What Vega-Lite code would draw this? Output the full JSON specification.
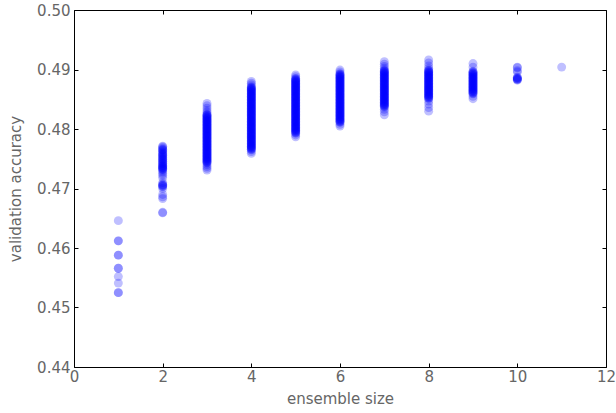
{
  "$schema": "https://vega.github.io/schema/vega-lite/v6.json",
  "width": 532,
  "height": 357,
  "autosize": "none",
  "padding": {"left": 74, "top": 10, "right": 10, "bottom": 46},
  "background": "white",
  "config": {
    "view": {"stroke": null},
    "axis": {
      "domainColor": "black",
      "domainWidth": 1,
      "tickColor": "black",
      "tickSize": -4,
      "grid": false,
      "labelFont": "DejaVu Sans",
      "labelFontSize": 15,
      "labelColor": "#666666",
      "titleFont": "DejaVu Sans",
      "titleFontSize": 15,
      "titleFontWeight": "normal",
      "titleColor": "#666666"
    }
  },
  "data": {
    "values": [
      {"s":1,"a":0.4646},{"s":1,"a":0.4612},{"s":1,"a":0.4612},{"s":1,"a":0.4588},{"s":1,"a":0.4588},{"s":1,"a":0.4566},{"s":1,"a":0.4566},{"s":1,"a":0.4552},{"s":1,"a":0.4541},{"s":1,"a":0.4525},{"s":1,"a":0.4525},
      {"s":2,"a":0.4771},{"s":2,"a":0.4768},{"s":2,"a":0.4765},{"s":2,"a":0.4762},{"s":2,"a":0.4759},{"s":2,"a":0.4757},{"s":2,"a":0.4755},{"s":2,"a":0.4752},{"s":2,"a":0.4750},{"s":2,"a":0.4748},{"s":2,"a":0.4745},{"s":2,"a":0.4743},{"s":2,"a":0.4741},{"s":2,"a":0.4738},{"s":2,"a":0.4737},{"s":2,"a":0.4735},{"s":2,"a":0.4733},{"s":2,"a":0.4731},{"s":2,"a":0.4728},{"s":2,"a":0.4725},{"s":2,"a":0.4722},{"s":2,"a":0.4718},{"s":2,"a":0.4710},{"s":2,"a":0.4707},{"s":2,"a":0.4705},{"s":2,"a":0.4703},{"s":2,"a":0.4700},{"s":2,"a":0.4690},{"s":2,"a":0.4686},{"s":2,"a":0.4683},{"s":2,"a":0.4660},{"s":2,"a":0.4659},
      {"s":2,"a":0.4770},{"s":2,"a":0.4766},{"s":2,"a":0.4764},{"s":2,"a":0.4760},{"s":2,"a":0.4756},{"s":2,"a":0.4753},{"s":2,"a":0.4749},{"s":2,"a":0.4746},{"s":2,"a":0.4742},{"s":2,"a":0.4739},{"s":2,"a":0.4736},{"s":2,"a":0.4734},{"s":2,"a":0.4732},{"s":2,"a":0.4706},{"s":2,"a":0.4704},
      {"s":3,"a":0.4843},{"s":3,"a":0.4839},{"s":3,"a":0.4835},{"s":3,"a":0.4831},{"s":3,"a":0.4828},{"s":3,"a":0.4825},{"s":3,"a":0.4823},{"s":3,"a":0.4821},{"s":3,"a":0.4819},{"s":3,"a":0.4817},{"s":3,"a":0.4815},{"s":3,"a":0.4813},{"s":3,"a":0.4811},{"s":3,"a":0.4809},{"s":3,"a":0.4807},{"s":3,"a":0.4805},{"s":3,"a":0.4803},{"s":3,"a":0.4801},{"s":3,"a":0.4799},{"s":3,"a":0.4797},{"s":3,"a":0.4795},{"s":3,"a":0.4793},{"s":3,"a":0.4791},{"s":3,"a":0.4789},{"s":3,"a":0.4787},{"s":3,"a":0.4785},{"s":3,"a":0.4783},{"s":3,"a":0.4781},{"s":3,"a":0.4779},{"s":3,"a":0.4777},{"s":3,"a":0.4775},{"s":3,"a":0.4773},{"s":3,"a":0.4771},{"s":3,"a":0.4769},{"s":3,"a":0.4767},{"s":3,"a":0.4765},{"s":3,"a":0.4763},{"s":3,"a":0.4761},{"s":3,"a":0.4759},{"s":3,"a":0.4757},{"s":3,"a":0.4755},{"s":3,"a":0.4753},{"s":3,"a":0.4751},{"s":3,"a":0.4749},{"s":3,"a":0.4747},{"s":3,"a":0.4745},{"s":3,"a":0.4743},{"s":3,"a":0.4740},{"s":3,"a":0.4737},{"s":3,"a":0.4734},{"s":3,"a":0.4731},
      {"s":3,"a":0.4824},{"s":3,"a":0.4822},{"s":3,"a":0.4820},{"s":3,"a":0.4818},{"s":3,"a":0.4816},{"s":3,"a":0.4814},{"s":3,"a":0.4812},{"s":3,"a":0.4810},{"s":3,"a":0.4808},{"s":3,"a":0.4806},{"s":3,"a":0.4804},{"s":3,"a":0.4802},{"s":3,"a":0.4800},{"s":3,"a":0.4798},{"s":3,"a":0.4796},{"s":3,"a":0.4794},{"s":3,"a":0.4792},{"s":3,"a":0.4790},{"s":3,"a":0.4788},{"s":3,"a":0.4786},{"s":3,"a":0.4784},{"s":3,"a":0.4782},{"s":3,"a":0.4780},{"s":3,"a":0.4778},{"s":3,"a":0.4776},{"s":3,"a":0.4774},{"s":3,"a":0.4772},{"s":3,"a":0.4770},{"s":3,"a":0.4768},{"s":3,"a":0.4766},{"s":3,"a":0.4764},{"s":3,"a":0.4762},{"s":3,"a":0.4760},{"s":3,"a":0.4758},{"s":3,"a":0.4756},{"s":3,"a":0.4754},{"s":3,"a":0.4752},{"s":3,"a":0.4750},{"s":3,"a":0.4748},{"s":3,"a":0.4746},{"s":3,"a":0.4744},
      {"s":4,"a":0.4880},{"s":4,"a":0.4877},{"s":4,"a":0.4874},{"s":4,"a":0.4871},{"s":4,"a":0.4869},{"s":4,"a":0.4867},{"s":4,"a":0.4865},{"s":4,"a":0.4863},{"s":4,"a":0.4861},{"s":4,"a":0.4859},{"s":4,"a":0.4857},{"s":4,"a":0.4855},{"s":4,"a":0.4853},{"s":4,"a":0.4851},{"s":4,"a":0.4849},{"s":4,"a":0.4847},{"s":4,"a":0.4845},{"s":4,"a":0.4843},{"s":4,"a":0.4841},{"s":4,"a":0.4839},{"s":4,"a":0.4837},{"s":4,"a":0.4835},{"s":4,"a":0.4833},{"s":4,"a":0.4831},{"s":4,"a":0.4829},{"s":4,"a":0.4827},{"s":4,"a":0.4825},{"s":4,"a":0.4823},{"s":4,"a":0.4821},{"s":4,"a":0.4819},{"s":4,"a":0.4817},{"s":4,"a":0.4815},{"s":4,"a":0.4813},{"s":4,"a":0.4811},{"s":4,"a":0.4809},{"s":4,"a":0.4807},{"s":4,"a":0.4805},{"s":4,"a":0.4803},{"s":4,"a":0.4801},{"s":4,"a":0.4799},{"s":4,"a":0.4797},{"s":4,"a":0.4795},{"s":4,"a":0.4793},{"s":4,"a":0.4791},{"s":4,"a":0.4789},{"s":4,"a":0.4787},{"s":4,"a":0.4785},{"s":4,"a":0.4783},{"s":4,"a":0.4781},{"s":4,"a":0.4779},{"s":4,"a":0.4777},{"s":4,"a":0.4775},{"s":4,"a":0.4773},{"s":4,"a":0.4771},{"s":4,"a":0.4769},{"s":4,"a":0.4767},{"s":4,"a":0.4765},{"s":4,"a":0.4762},{"s":4,"a":0.4759},
      {"s":4,"a":0.4870},{"s":4,"a":0.4868},{"s":4,"a":0.4866},{"s":4,"a":0.4864},{"s":4,"a":0.4862},{"s":4,"a":0.4860},{"s":4,"a":0.4858},{"s":4,"a":0.4856},{"s":4,"a":0.4854},{"s":4,"a":0.4852},{"s":4,"a":0.4850},{"s":4,"a":0.4848},{"s":4,"a":0.4846},{"s":4,"a":0.4844},{"s":4,"a":0.4842},{"s":4,"a":0.4840},{"s":4,"a":0.4838},{"s":4,"a":0.4836},{"s":4,"a":0.4834},{"s":4,"a":0.4832},{"s":4,"a":0.4830},{"s":4,"a":0.4828},{"s":4,"a":0.4826},{"s":4,"a":0.4824},{"s":4,"a":0.4822},{"s":4,"a":0.4820},{"s":4,"a":0.4818},{"s":4,"a":0.4816},{"s":4,"a":0.4814},{"s":4,"a":0.4812},{"s":4,"a":0.4810},{"s":4,"a":0.4808},{"s":4,"a":0.4806},{"s":4,"a":0.4804},{"s":4,"a":0.4802},{"s":4,"a":0.4800},{"s":4,"a":0.4798},{"s":4,"a":0.4796},{"s":4,"a":0.4794},{"s":4,"a":0.4792},{"s":4,"a":0.4790},{"s":4,"a":0.4788},{"s":4,"a":0.4786},{"s":4,"a":0.4784},{"s":4,"a":0.4782},{"s":4,"a":0.4780},{"s":4,"a":0.4778},{"s":4,"a":0.4776},{"s":4,"a":0.4774},{"s":4,"a":0.4772},{"s":4,"a":0.4770},{"s":4,"a":0.4768},{"s":4,"a":0.4766},
      {"s":5,"a":0.4891},{"s":5,"a":0.4888},{"s":5,"a":0.4885},{"s":5,"a":0.4883},{"s":5,"a":0.4881},{"s":5,"a":0.4879},{"s":5,"a":0.4877},{"s":5,"a":0.4875},{"s":5,"a":0.4873},{"s":5,"a":0.4871},{"s":5,"a":0.4869},{"s":5,"a":0.4867},{"s":5,"a":0.4865},{"s":5,"a":0.4863},{"s":5,"a":0.4861},{"s":5,"a":0.4859},{"s":5,"a":0.4857},{"s":5,"a":0.4855},{"s":5,"a":0.4853},{"s":5,"a":0.4851},{"s":5,"a":0.4849},{"s":5,"a":0.4847},{"s":5,"a":0.4845},{"s":5,"a":0.4843},{"s":5,"a":0.4841},{"s":5,"a":0.4839},{"s":5,"a":0.4837},{"s":5,"a":0.4835},{"s":5,"a":0.4833},{"s":5,"a":0.4831},{"s":5,"a":0.4829},{"s":5,"a":0.4827},{"s":5,"a":0.4825},{"s":5,"a":0.4823},{"s":5,"a":0.4821},{"s":5,"a":0.4819},{"s":5,"a":0.4817},{"s":5,"a":0.4815},{"s":5,"a":0.4813},{"s":5,"a":0.4811},{"s":5,"a":0.4809},{"s":5,"a":0.4807},{"s":5,"a":0.4805},{"s":5,"a":0.4803},{"s":5,"a":0.4801},{"s":5,"a":0.4799},{"s":5,"a":0.4797},{"s":5,"a":0.4795},{"s":5,"a":0.4793},{"s":5,"a":0.4790},{"s":5,"a":0.4787},
      {"s":5,"a":0.4884},{"s":5,"a":0.4882},{"s":5,"a":0.4880},{"s":5,"a":0.4878},{"s":5,"a":0.4876},{"s":5,"a":0.4874},{"s":5,"a":0.4872},{"s":5,"a":0.4870},{"s":5,"a":0.4868},{"s":5,"a":0.4866},{"s":5,"a":0.4864},{"s":5,"a":0.4862},{"s":5,"a":0.4860},{"s":5,"a":0.4858},{"s":5,"a":0.4856},{"s":5,"a":0.4854},{"s":5,"a":0.4852},{"s":5,"a":0.4850},{"s":5,"a":0.4848},{"s":5,"a":0.4846},{"s":5,"a":0.4844},{"s":5,"a":0.4842},{"s":5,"a":0.4840},{"s":5,"a":0.4838},{"s":5,"a":0.4836},{"s":5,"a":0.4834},{"s":5,"a":0.4832},{"s":5,"a":0.4830},{"s":5,"a":0.4828},{"s":5,"a":0.4826},{"s":5,"a":0.4824},{"s":5,"a":0.4822},{"s":5,"a":0.4820},{"s":5,"a":0.4818},{"s":5,"a":0.4816},{"s":5,"a":0.4814},{"s":5,"a":0.4812},{"s":5,"a":0.4810},{"s":5,"a":0.4808},{"s":5,"a":0.4806},{"s":5,"a":0.4804},{"s":5,"a":0.4802},{"s":5,"a":0.4800},{"s":5,"a":0.4798},{"s":5,"a":0.4796},{"s":5,"a":0.4794},
      {"s":6,"a":0.4899},{"s":6,"a":0.4896},{"s":6,"a":0.4893},{"s":6,"a":0.4891},{"s":6,"a":0.4889},{"s":6,"a":0.4887},{"s":6,"a":0.4885},{"s":6,"a":0.4883},{"s":6,"a":0.4881},{"s":6,"a":0.4879},{"s":6,"a":0.4877},{"s":6,"a":0.4875},{"s":6,"a":0.4873},{"s":6,"a":0.4871},{"s":6,"a":0.4869},{"s":6,"a":0.4867},{"s":6,"a":0.4865},{"s":6,"a":0.4863},{"s":6,"a":0.4861},{"s":6,"a":0.4859},{"s":6,"a":0.4857},{"s":6,"a":0.4855},{"s":6,"a":0.4853},{"s":6,"a":0.4851},{"s":6,"a":0.4849},{"s":6,"a":0.4847},{"s":6,"a":0.4845},{"s":6,"a":0.4843},{"s":6,"a":0.4841},{"s":6,"a":0.4839},{"s":6,"a":0.4837},{"s":6,"a":0.4835},{"s":6,"a":0.4833},{"s":6,"a":0.4831},{"s":6,"a":0.4829},{"s":6,"a":0.4827},{"s":6,"a":0.4825},{"s":6,"a":0.4823},{"s":6,"a":0.4821},{"s":6,"a":0.4819},{"s":6,"a":0.4817},{"s":6,"a":0.4815},{"s":6,"a":0.4813},{"s":6,"a":0.4811},{"s":6,"a":0.4808},{"s":6,"a":0.4805},
      {"s":6,"a":0.4892},{"s":6,"a":0.4890},{"s":6,"a":0.4888},{"s":6,"a":0.4886},{"s":6,"a":0.4884},{"s":6,"a":0.4882},{"s":6,"a":0.4880},{"s":6,"a":0.4878},{"s":6,"a":0.4876},{"s":6,"a":0.4874},{"s":6,"a":0.4872},{"s":6,"a":0.4870},{"s":6,"a":0.4868},{"s":6,"a":0.4866},{"s":6,"a":0.4864},{"s":6,"a":0.4862},{"s":6,"a":0.4860},{"s":6,"a":0.4858},{"s":6,"a":0.4856},{"s":6,"a":0.4854},{"s":6,"a":0.4852},{"s":6,"a":0.4850},{"s":6,"a":0.4848},{"s":6,"a":0.4846},{"s":6,"a":0.4844},{"s":6,"a":0.4842},{"s":6,"a":0.4840},{"s":6,"a":0.4838},{"s":6,"a":0.4836},{"s":6,"a":0.4834},{"s":6,"a":0.4832},{"s":6,"a":0.4830},{"s":6,"a":0.4828},{"s":6,"a":0.4826},{"s":6,"a":0.4824},{"s":6,"a":0.4822},{"s":6,"a":0.4820},{"s":6,"a":0.4818},{"s":6,"a":0.4816},{"s":6,"a":0.4814},{"s":6,"a":0.4812},
      {"s":7,"a":0.4913},{"s":7,"a":0.4909},{"s":7,"a":0.4905},{"s":7,"a":0.4902},{"s":7,"a":0.4899},{"s":7,"a":0.4897},{"s":7,"a":0.4895},{"s":7,"a":0.4893},{"s":7,"a":0.4891},{"s":7,"a":0.4889},{"s":7,"a":0.4887},{"s":7,"a":0.4885},{"s":7,"a":0.4883},{"s":7,"a":0.4881},{"s":7,"a":0.4879},{"s":7,"a":0.4877},{"s":7,"a":0.4875},{"s":7,"a":0.4873},{"s":7,"a":0.4871},{"s":7,"a":0.4869},{"s":7,"a":0.4867},{"s":7,"a":0.4865},{"s":7,"a":0.4863},{"s":7,"a":0.4861},{"s":7,"a":0.4859},{"s":7,"a":0.4857},{"s":7,"a":0.4855},{"s":7,"a":0.4853},{"s":7,"a":0.4851},{"s":7,"a":0.4849},{"s":7,"a":0.4847},{"s":7,"a":0.4845},{"s":7,"a":0.4843},{"s":7,"a":0.4841},{"s":7,"a":0.4839},{"s":7,"a":0.4837},{"s":7,"a":0.4833},{"s":7,"a":0.4829},{"s":7,"a":0.4824},
      {"s":7,"a":0.4898},{"s":7,"a":0.4896},{"s":7,"a":0.4894},{"s":7,"a":0.4892},{"s":7,"a":0.4890},{"s":7,"a":0.4888},{"s":7,"a":0.4886},{"s":7,"a":0.4884},{"s":7,"a":0.4882},{"s":7,"a":0.4880},{"s":7,"a":0.4878},{"s":7,"a":0.4876},{"s":7,"a":0.4874},{"s":7,"a":0.4872},{"s":7,"a":0.4870},{"s":7,"a":0.4868},{"s":7,"a":0.4866},{"s":7,"a":0.4864},{"s":7,"a":0.4862},{"s":7,"a":0.4860},{"s":7,"a":0.4858},{"s":7,"a":0.4856},{"s":7,"a":0.4854},{"s":7,"a":0.4852},{"s":7,"a":0.4850},{"s":7,"a":0.4848},{"s":7,"a":0.4846},{"s":7,"a":0.4844},{"s":7,"a":0.4842},{"s":7,"a":0.4840},{"s":7,"a":0.4838},
      {"s":8,"a":0.4916},{"s":8,"a":0.4911},{"s":8,"a":0.4906},{"s":8,"a":0.4902},{"s":8,"a":0.4899},{"s":8,"a":0.4897},{"s":8,"a":0.4895},{"s":8,"a":0.4893},{"s":8,"a":0.4891},{"s":8,"a":0.4889},{"s":8,"a":0.4887},{"s":8,"a":0.4885},{"s":8,"a":0.4883},{"s":8,"a":0.4881},{"s":8,"a":0.4879},{"s":8,"a":0.4877},{"s":8,"a":0.4875},{"s":8,"a":0.4873},{"s":8,"a":0.4871},{"s":8,"a":0.4869},{"s":8,"a":0.4867},{"s":8,"a":0.4865},{"s":8,"a":0.4863},{"s":8,"a":0.4861},{"s":8,"a":0.4859},{"s":8,"a":0.4857},{"s":8,"a":0.4855},{"s":8,"a":0.4853},{"s":8,"a":0.4851},{"s":8,"a":0.4847},{"s":8,"a":0.4842},{"s":8,"a":0.4836},{"s":8,"a":0.4830},
      {"s":8,"a":0.4898},{"s":8,"a":0.4896},{"s":8,"a":0.4894},{"s":8,"a":0.4892},{"s":8,"a":0.4890},{"s":8,"a":0.4888},{"s":8,"a":0.4886},{"s":8,"a":0.4884},{"s":8,"a":0.4882},{"s":8,"a":0.4880},{"s":8,"a":0.4878},{"s":8,"a":0.4876},{"s":8,"a":0.4874},{"s":8,"a":0.4872},{"s":8,"a":0.4870},{"s":8,"a":0.4868},{"s":8,"a":0.4866},{"s":8,"a":0.4864},{"s":8,"a":0.4862},{"s":8,"a":0.4860},{"s":8,"a":0.4858},{"s":8,"a":0.4856},{"s":8,"a":0.4854},{"s":8,"a":0.4852},
      {"s":9,"a":0.4910},{"s":9,"a":0.4904},{"s":9,"a":0.4897},{"s":9,"a":0.4895},{"s":9,"a":0.4893},{"s":9,"a":0.4891},{"s":9,"a":0.4889},{"s":9,"a":0.4887},{"s":9,"a":0.4885},{"s":9,"a":0.4883},{"s":9,"a":0.4881},{"s":9,"a":0.4879},{"s":9,"a":0.4877},{"s":9,"a":0.4875},{"s":9,"a":0.4873},{"s":9,"a":0.4871},{"s":9,"a":0.4869},{"s":9,"a":0.4867},{"s":9,"a":0.4865},{"s":9,"a":0.4863},{"s":9,"a":0.4861},{"s":9,"a":0.4859},{"s":9,"a":0.4855},{"s":9,"a":0.4851},
      {"s":9,"a":0.4896},{"s":9,"a":0.4894},{"s":9,"a":0.4892},{"s":9,"a":0.4890},{"s":9,"a":0.4888},{"s":9,"a":0.4886},{"s":9,"a":0.4884},{"s":9,"a":0.4882},{"s":9,"a":0.4880},{"s":9,"a":0.4878},{"s":9,"a":0.4876},{"s":9,"a":0.4874},{"s":9,"a":0.4872},{"s":9,"a":0.4870},{"s":9,"a":0.4868},{"s":9,"a":0.4866},{"s":9,"a":0.4864},{"s":9,"a":0.4862},{"s":9,"a":0.4860},
      {"s":10,"a":0.4904},{"s":10,"a":0.4903},{"s":10,"a":0.4898},{"s":10,"a":0.4896},{"s":10,"a":0.4887},{"s":10,"a":0.4886},{"s":10,"a":0.4885},{"s":10,"a":0.4884},{"s":10,"a":0.4884},{"s":10,"a":0.4883},{"s":10,"a":0.4882},
      {"s":11,"a":0.4904}
    ]
  },
  "layer": [
    {
      "mark": {"type": "circle", "color": "#0000ff", "opacity": 0.25, "size": 80, "strokeWidth": 0},
      "encoding": {
        "x": {"field": "s", "type": "quantitative", "scale": {"domain": [0, 12], "nice": false, "zero": false},
              "axis": {"orient": "bottom", "title": "ensemble size", "values": [0,2,4,6,8,10,12], "labelPadding": 6, "titlePadding": 7, "labelFlush": false}},
        "y": {"field": "a", "type": "quantitative", "scale": {"domain": [0.44, 0.50], "nice": false, "zero": false},
              "axis": {"orient": "left", "title": "validation accuracy", "values": [0.44,0.45,0.46,0.47,0.48,0.49,0.50], "format": ".2f", "labelPadding": 8, "titlePadding": 13, "labelFlush": false}}
      }
    },
    {
      "mark": {"type": "circle", "opacity": 0},
      "encoding": {
        "x": {"field": "s", "type": "quantitative", "axis": {"orient": "top", "title": null, "labels": false, "values": [0,2,4,6,8,10,12]}},
        "y": {"field": "a", "type": "quantitative", "axis": {"orient": "right", "title": null, "labels": false, "values": [0.44,0.45,0.46,0.47,0.48,0.49,0.50]}}
      }
    }
  ],
  "resolve": {"axis": {"x": "independent", "y": "independent"}}
}
